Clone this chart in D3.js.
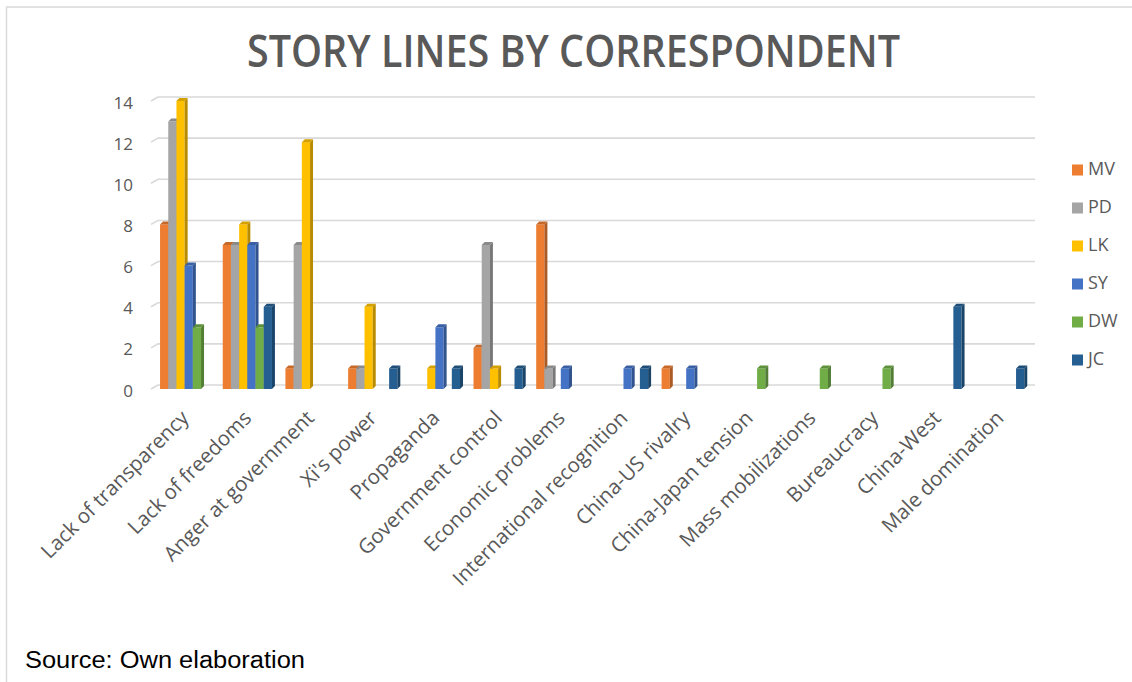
<!DOCTYPE html>
<html>
<head>
<meta charset="utf-8">
<script src="https://cdn.jsdelivr.net/npm/d3@7"></script>
<style>
  html, body { margin: 0; padding: 0; background: #ffffff; }
  svg { display: block; }
</style>
</head>
<body>
<svg id="chart" width="1132" height="682"></svg>
<script>
// Story lines covered by each correspondent (number of stories)
const categories = [
  "Lack of transparency", "Lack of freedoms", "Anger at government", "Xi's power",
  "Propaganda", "Government control", "Economic problems", "International recognition",
  "China-US rivalry", "China-Japan tension", "Mass mobilizations", "Bureaucracy",
  "China-West", "Male domination"
];
const series = ["MV", "PD", "LK", "SY", "DW", "JC"];
const MV = [8, 7, 1, 1, 0, 2, 8, 0, 1, 0, 0, 0, 0, 0];
const PD = [13, 7, 7, 1, 0, 7, 1, 0, 0, 0, 0, 0, 0, 0];
const LK = [14, 8, 12, 4, 1, 1, 0, 0, 0, 0, 0, 0, 0, 0];
const SY = [6, 7, 0, 0, 3, 0, 1, 1, 1, 0, 0, 0, 0, 0];
const DW = [3, 3, 0, 0, 0, 0, 0, 0, 0, 1, 1, 1, 0, 0];
const JC = [0, 4, 0, 1, 1, 1, 0, 1, 0, 0, 0, 0, 4, 1];
const yTicks = [0, 2, 4, 6, 8, 10, 12, 14];
const seriesColors = ["#ED7D31", "#A5A5A5", "#FFC000", "#4472C4", "#70AD47", "#255E91"];

const values = { MV, PD, LK, SY, DW, JC };

const svg = d3.select("#chart");
const textColor = "#595959";
const gridColor = "#d9d9d9";
const depth = 3;        // 3-D extrusion of bars and back wall
const wallShift = 4;    // vertical offset of back wall gridlines

// outer frame (top and left edges)
svg.append("path")
  .attr("d", "M6.5,682 L6.5,7 L1132,7")
  .attr("fill", "none")
  .attr("stroke", gridColor)
  .attr("stroke-width", 1.5);

// title
svg.append("text")
  .attr("x", 247).attr("y", 67)
  .attr("textLength", 653)
  .attr("lengthAdjust", "spacingAndGlyphs")
  .attr("font-family", "'Open Sans', sans-serif")
  .attr("font-weight", 600)
  .attr("font-size", 46)
  .attr("fill", textColor)
  .text("STORY LINES BY CORRESPONDENT");

// scales
const x = d3.scaleBand().domain(categories).range([153.3, 1031]).padding(0);
const xs = d3.scaleBand().domain(series).range([0, x.bandwidth()]).paddingInner(0).paddingOuter(0.823);
const y = d3.scaleLinear().domain([0, 14]).range([389, 101]);

// gridlines on the back wall with a slanted stub on the side wall
const grid = svg.append("g");
yTicks.forEach(t => {
  const yy = y(t);
  grid.append("path")
    .attr("d", `M151,${yy} L158,${yy - wallShift} L1035,${yy - wallShift}`)
    .attr("fill", "none")
    .attr("stroke", gridColor)
    .attr("stroke-width", 1.6);
});

// y axis labels
svg.append("g").selectAll("text")
  .data(yTicks)
  .join("text")
  .attr("x", 133)
  .attr("y", d => y(d) + 3)
  .attr("text-anchor", "end")
  .attr("dominant-baseline", "middle")
  .attr("font-family", "'Open Sans', sans-serif")
  .attr("font-size", 17)
  .attr("fill", textColor)
  .text(d => d);

// bars drawn as 3-D columns: front face, side face, top face
const barData = [];
categories.forEach((c, i) => {
  series.forEach((s, j) => {
    const v = values[s][i];
    if (v > 0) barData.push({ c, s, v, color: seriesColors[j] });
  });
});

const bw = xs.bandwidth();
const bars = svg.append("g").selectAll("g")
  .data(barData)
  .join("g");

bars.append("rect")
  .attr("x", d => x(d.c) + xs(d.s))
  .attr("y", d => y(d.v))
  .attr("width", bw)
  .attr("height", d => y(0) - y(d.v))
  .attr("fill", d => d.color);

bars.append("path")
  .attr("d", d => {
    const x1 = x(d.c) + xs(d.s) + bw, y1 = y(d.v), y0 = y(0);
    return `M${x1},${y1} L${x1 + depth},${y1 - depth} L${x1 + depth},${y0 - depth} L${x1},${y0} Z`;
  })
  .attr("fill", d => d3.color(d.color).darker(0.9));

bars.append("path")
  .attr("d", d => {
    const x0 = x(d.c) + xs(d.s), x1 = x0 + bw, y1 = y(d.v);
    return `M${x0},${y1} L${x0 + depth},${y1 - depth} L${x1 + depth},${y1 - depth} L${x1},${y1} Z`;
  })
  .attr("fill", d => d3.color(d.color).darker(0.5));

// category labels, rotated
svg.append("g").selectAll("text")
  .data(categories)
  .join("text")
  .attr("transform", d => `translate(${x(d) + x.bandwidth() / 2 - 5},${409}) rotate(-45)`)
  .attr("dy", "0.71em")
  .attr("text-anchor", "end")
  .attr("font-family", "'Open Sans', sans-serif")
  .attr("font-size", 20.5)
  .attr("fill", textColor)
  .text(d => d);

// legend
const legend = svg.append("g").selectAll("g")
  .data(series)
  .join("g")
  .attr("transform", (d, i) => `translate(1072,${170 + i * 38})`);
legend.append("rect")
  .attr("x", 0).attr("y", -5.5)
  .attr("width", 11).attr("height", 11)
  .attr("fill", (d, i) => seriesColors[i]);
legend.append("text")
  .attr("x", 16).attr("y", 0)
  .attr("dominant-baseline", "middle")
  .attr("font-family", "'Open Sans', sans-serif")
  .attr("font-size", 18)
  .attr("fill", textColor)
  .text(d => d);

// source note
svg.append("text")
  .attr("x", 25).attr("y", 668)
  .attr("textLength", 280)
  .attr("lengthAdjust", "spacingAndGlyphs")
  .attr("font-family", "'Liberation Sans', Arial, sans-serif")
  .attr("font-size", 23)
  .attr("fill", "#000000")
  .text("Source: Own elaboration");
</script>
</body>
</html>
